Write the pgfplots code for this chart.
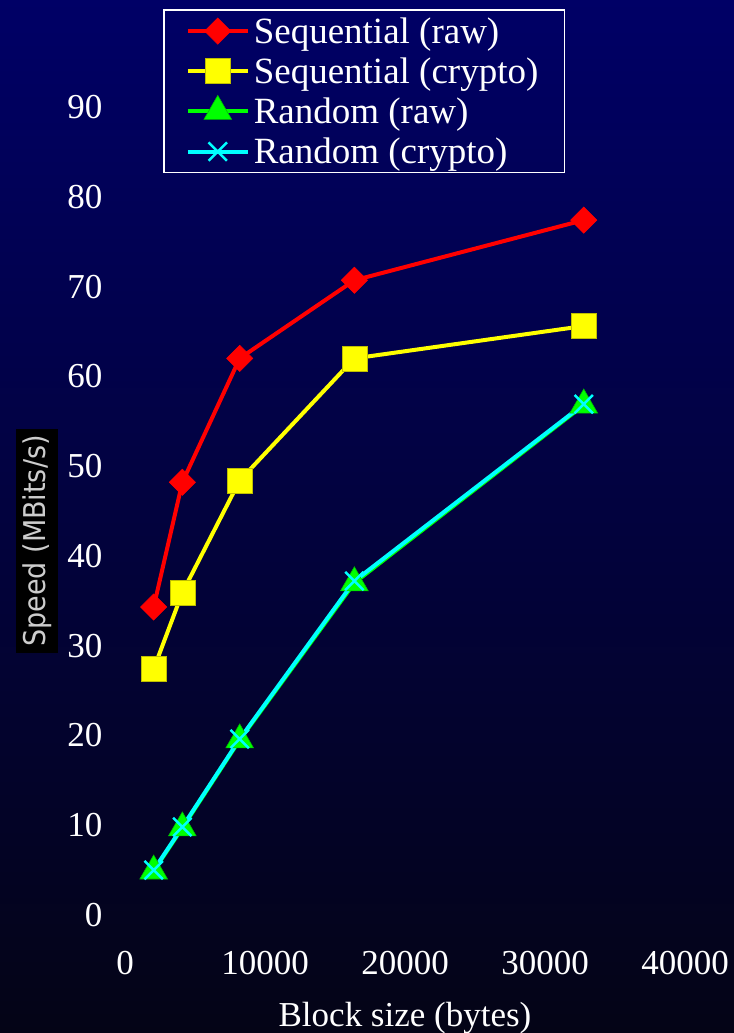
\documentclass[border=0pt]{standalone}
\usepackage{fontspec}
\setmainfont{Liberation Serif}
\newfontfamily\labelfont{DejaVu Sans Condensed}
\usepackage{pgfplots}
\pgfplotsset{compat=1.18}
\definecolor{bgtop}{RGB}{0,0,102}
\definecolor{bgbot}{RGB}{4,4,22}
\definecolor{cred}{RGB}{255,0,0}
\definecolor{cyel}{RGB}{255,255,0}
\definecolor{cgreen}{RGB}{0,255,0}
\definecolor{ccyan}{RGB}{0,255,255}
\definecolor{lblgray}{RGB}{205,205,205}
\newcommand{\bigfont}{\fontsize{35bp}{42bp}\selectfont}
\newcommand{\legfont}{\fontsize{37bp}{44bp}\selectfont}
\begin{document}
\begin{tikzpicture}
\shade[top color=bgtop, bottom color=bgbot] (0,0) rectangle (734bp,1033bp);
\begin{axis}[
  at={(125bp,118bp)}, anchor=south west,
  scale only axis, width=560bp, height=808bp,
  xmin=0, xmax=40000, ymin=0, ymax=90,
  xtick={0,10000,20000,30000,40000},
  ytick={0,10,20,30,40,50,60,70,80,90},
  scaled x ticks=false,
  /pgf/number format/set thousands separator={},
  /pgf/number format/assume math mode=true,
  axis line style={draw=none},
  major tick length=0pt,
  tick style={draw=none},
  ticklabel style={font=\bigfont, text=white},
  xticklabel style={yshift=-33bp},
  yticklabel style={xshift=-19bp},
  xlabel={Block size (bytes)},
  xlabel style={font=\bigfont, text=white, at={(axis description cs:0.5,-0.1374)}, anchor=base},
  ylabel={Speed (MBits/s)},
  ylabel style={at={(axis description cs:-0.157,0.4629)}, anchor=center, fill=black, text=lblgray, font=\labelfont\fontsize{30bp}{36bp}\selectfont, inner xsep=6bp, inner ysep=6.5bp},
  legend style={at={(axis description cs:0.0679,1.121)}, anchor=north west, draw=white, line width=1.5bp, fill=none, text=white, font=\legfont, inner xsep=22bp, inner ysep=1bp, row sep=0pt, nodes={inner xsep=4bp, inner ysep=6.5bp}},
  legend cell align=left,
  legend image code/.code={\draw[mark repeat=2,mark phase=2] plot coordinates {(0bp,0bp) (30bp,0bp) (60bp,0bp)};},
]
\addplot[cred, line width=4bp, mark=square*, mark size=9.3bp, mark options={rotate=45, fill=cred, draw=cred, line width=0.5bp}]
  coordinates {(2048,34.3) (4096,48.2) (8192,62.0) (16384,70.7) (32768,77.4)};
\addlegendentry{Sequential (raw)}
\addplot[cyel, line width=4bp, mark=square*, mark size=12.5bp, mark options={fill=cyel, draw=cyel!75!black, line width=0.6bp}]
  coordinates {(2048,27.4) (4096,35.9) (8192,48.4) (16384,62.0) (32768,65.6)};
\addlegendentry{Sequential (crypto)}
\addplot[cgreen, line width=4bp, mark=triangle*, mark size=16bp, mark options={fill=cgreen, draw=cgreen!75!black, line width=0.6bp}]
  coordinates {(2048,4.9) (4096,9.7) (8192,19.5) (16384,37.0) (32768,56.8)};
\addlegendentry{Random (raw)}
\addplot[ccyan, line width=4bp, mark=x, mark size=13bp, mark options={draw=ccyan, line width=2.5bp}]
  coordinates {(2048,5.0) (4096,9.8) (8192,19.6) (16384,37.2) (32768,56.9)};
\addlegendentry{Random (crypto)}
\end{axis}
\pgfresetboundingbox
\path (0,0) rectangle (734bp,1033bp);
\end{tikzpicture}
\end{document}
